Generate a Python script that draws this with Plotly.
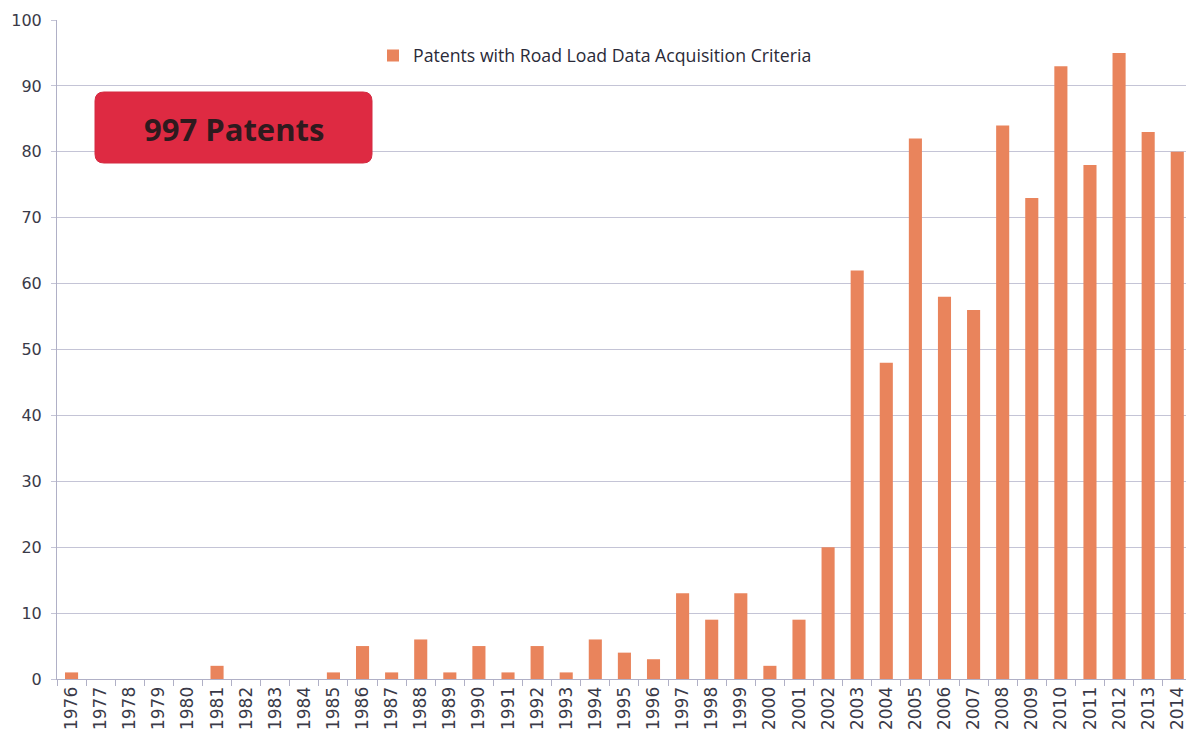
import plotly.graph_objects as go

# Patent counts per grant year
years = [str(y) for y in range(1976, 2015)]
patents = [1, 0, 0, 0, 0, 2, 0, 0, 0, 1,
           5, 1, 6, 1, 5, 1, 5, 1, 6, 4,
           3, 13, 9, 13, 2, 9, 20, 62, 48, 82,
           58, 56, 84, 73, 93, 78, 95, 83, 80]

series_name = "Patents with Road Load Data Acquisition Criteria"
badge_text = "997 Patents"

bar_color = "#e9845c"
grid_color = "#c4c4d6"
axis_color = "#b0b0c6"
text_color = "#3a3a48"

W, H = 1186, 737
ml, mr, mt, mb = 57, 0, 20, 58
pw, ph = W - ml - mr, H - mt - mb


def px_to_paper(x, y):
    return (x - ml) / pw, (H - mb - y) / ph


fig = go.Figure()
fig.add_trace(go.Bar(
    x=years, y=patents, name=series_name,
    marker=dict(color=bar_color, line=dict(width=0)),
    showlegend=True,
))

# Rounded red badge in the upper-left corner
bx0, by0, bx1, by1, r = 95, 92, 372, 163, 9
x0, y0 = px_to_paper(bx0, by1)
x1, y1 = px_to_paper(bx1, by0)
rx, ry = r / pw, r / ph
path = (f"M {x0+rx},{y0} L {x1-rx},{y0} Q {x1},{y0} {x1},{y0+ry} "
        f"L {x1},{y1-ry} Q {x1},{y1} {x1-rx},{y1} "
        f"L {x0+rx},{y1} Q {x0},{y1} {x0},{y1-ry} "
        f"L {x0},{y0+ry} Q {x0},{y0} {x0+rx},{y0} Z")
fig.add_shape(type="path", path=path, xref="paper", yref="paper",
              fillcolor="#de2a42", line=dict(color="#d42a40", width=1),
              layer="above")
cx, cy = px_to_paper((bx0 + bx1) / 2, (by0 + by1) / 2 + 1)
fig.add_annotation(x=cx, y=cy, xref="paper", yref="paper",
                   xanchor="center", yanchor="middle",
                   text=f"<b>{badge_text}</b>", showarrow=False,
                   font=dict(family="Open Sans", size=31, color="#2e1a1e"))

lx, ly = px_to_paper(373, 56)
fig.update_layout(
    width=W, height=H,
    margin=dict(l=ml, r=mr, t=mt, b=mb, pad=0),
    paper_bgcolor="white", plot_bgcolor="white",
    bargap=0.55,
    font=dict(family="DejaVu Sans", color=text_color),
    legend=dict(x=lx, y=ly, xanchor="left", yanchor="middle",
                orientation="h", bgcolor="rgba(0,0,0,0)",
                font=dict(family="Open Sans", size=17.7, color="#2a2a38"),
                itemwidth=30),
    xaxis=dict(
        type="category", range=[-0.5, 38.3],
        tickangle=-90, tickfont=dict(size=17, color=text_color),
        showgrid=False, showline=True, linecolor=axis_color, linewidth=1,
        ticks="outside", tickson="boundaries", ticklen=6,
        tickcolor=axis_color,
    ),
    yaxis=dict(
        range=[0, 100], dtick=10, tickfont=dict(size=16, color=text_color),
        showgrid=True, gridcolor=grid_color, gridwidth=1,
        zeroline=False, showline=True, linecolor=axis_color, linewidth=1,
        ticks="outside", ticklen=5, tickcolor=grid_color,
        ticklabelstandoff=6,
    ),
)

fig.write_html("out.html")
